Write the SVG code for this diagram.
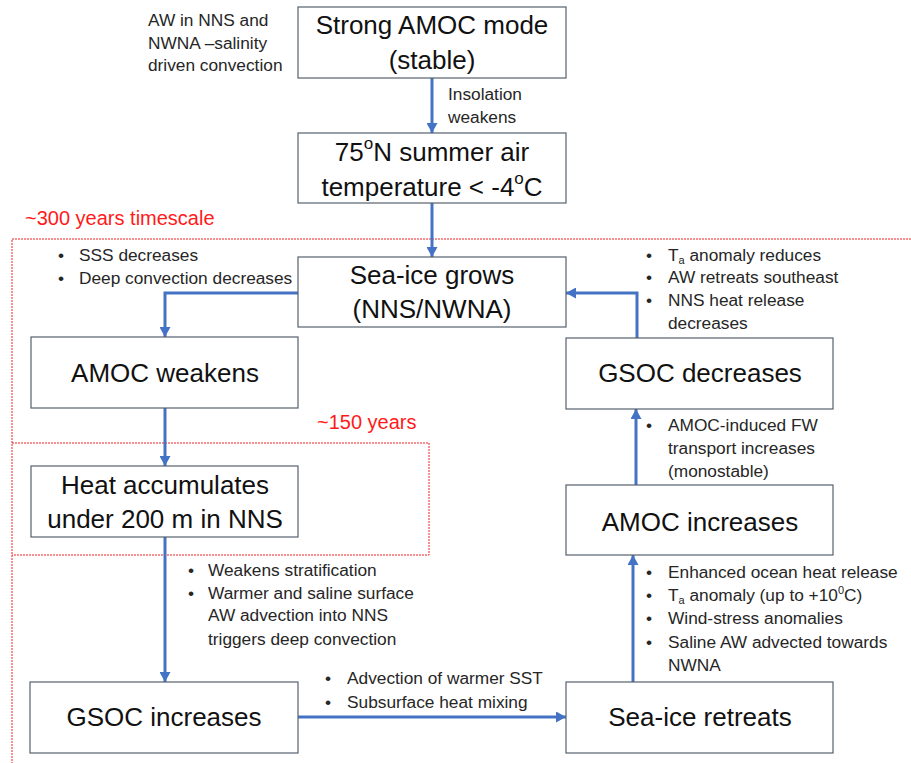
<svg xmlns="http://www.w3.org/2000/svg" width="911" height="763" viewBox="0 0 911 763">
<style>
  .box { fill: #ffffff; stroke: #56616d; stroke-width: 1.2; }
  .bt { font-family: "Liberation Sans", Arial, sans-serif; font-size: 26px; fill: #111111; text-anchor: middle; }
  .st { font-family: "Liberation Sans", Arial, sans-serif; font-size: 17.3px; fill: #262626; }
  .red { font-family: "Liberation Sans", Arial, sans-serif; font-size: 20px; fill: #ff1a1a; }
  .frame { fill: none; stroke: #ee2222; stroke-width: 1; stroke-dasharray: 2 1; }
  .conn { fill: none; stroke: #4472c4; stroke-width: 3; marker-end: url(#ah); }
</style>
<defs>
  <marker id="ah" markerUnits="userSpaceOnUse" markerWidth="11" markerHeight="11" refX="10" refY="5.5" orient="auto">
    <path d="M0,0 L10,5.5 L0,11 Z" fill="#4472c4"/>
  </marker>
</defs>
<rect width="911" height="763" fill="#ffffff"/>

<!-- timescale frames -->
<g id="frames">
  <path class="frame" d="M911 239 H12 V763"/>
  <path class="frame" d="M12 443 H429 V555 H12"/>
  <text class="red" x="25" y="225">~300 years timescale</text>
  <text class="red" x="317" y="429">~150 years</text>
</g>

<!-- connectors -->
<g id="connectors">
  <path class="conn" d="M432 78 V133"/>
  <path class="conn" d="M432 203 V257"/>
  <path class="conn" d="M298 293 H165 V337"/>
  <path class="conn" d="M165 408 V466"/>
  <path class="conn" d="M165 537 V682"/>
  <path class="conn" d="M298 717 H566"/>
  <path class="conn" d="M633 682 V555"/>
  <path class="conn" d="M636 485 V409"/>
  <path class="conn" d="M637 338 V293 H566"/>
</g>

<!-- nodes -->
<g id="strong-amoc">
  <rect class="box" x="298" y="7" width="268" height="71"/>
  <text class="bt" x="432" y="34">Strong AMOC mode</text>
  <text class="bt" x="432" y="69">(stable)</text>
</g>
<g id="air-temp">
  <rect class="box" x="298" y="133" width="268" height="70"/>
  <text class="bt" x="432" y="161">75<tspan font-size="17" dy="-12">o</tspan><tspan dy="12">N summer air</tspan></text>
  <text class="bt" x="432" y="196">temperature &lt; -4<tspan font-size="17" dy="-12">o</tspan><tspan dy="12">C</tspan></text>
</g>
<g id="sea-ice-grows">
  <rect class="box" x="298" y="257" width="268" height="70"/>
  <text class="bt" x="432" y="284">Sea-ice grows</text>
  <text class="bt" x="432" y="318">(NNS/NWNA)</text>
</g>
<g id="amoc-weakens">
  <rect class="box" x="31" y="337" width="267" height="71"/>
  <text class="bt" x="165" y="382">AMOC weakens</text>
</g>
<g id="heat-accumulates">
  <rect class="box" x="31" y="466" width="267" height="71"/>
  <text class="bt" x="165" y="494">Heat accumulates</text>
  <text class="bt" x="165" y="528">under 200 m in NNS</text>
</g>
<g id="gsoc-increases">
  <rect class="box" x="30" y="682" width="268" height="71"/>
  <text class="bt" x="164" y="726">GSOC increases</text>
</g>
<g id="sea-ice-retreats">
  <rect class="box" x="566" y="682" width="267" height="71"/>
  <text class="bt" x="700" y="726">Sea-ice retreats</text>
</g>
<g id="amoc-increases">
  <rect class="box" x="566" y="485" width="267" height="70"/>
  <text class="bt" x="700" y="531">AMOC increases</text>
</g>
<g id="gsoc-decreases">
  <rect class="box" x="566" y="338" width="267" height="71"/>
  <text class="bt" x="700" y="382">GSOC decreases</text>
</g>

<!-- annotations -->
<g id="labels">
  <text class="st" x="148" y="26">AW in NNS and</text>
  <text class="st" x="148" y="49">NWNA –salinity</text>
  <text class="st" x="148" y="71">driven convection</text>

  <text class="st" x="448" y="100">Insolation</text>
  <text class="st" x="448" y="123">weakens</text>

  <text class="st" x="58" y="261">•</text>
  <text class="st" x="79" y="261">SSS decreases</text>
  <text class="st" x="58" y="284">•</text>
  <text class="st" x="79" y="284">Deep convection decreases</text>

  <text class="st" x="646" y="261">•</text>
  <text class="st" x="668" y="261">T<tspan font-size="11" dy="3">a</tspan><tspan dy="-3"> anomaly reduces</tspan></text>
  <text class="st" x="646" y="283">•</text>
  <text class="st" x="668" y="283">AW retreats southeast</text>
  <text class="st" x="646" y="306">•</text>
  <text class="st" x="668" y="306">NNS heat release</text>
  <text class="st" x="668" y="329">decreases</text>

  <text class="st" x="646" y="431">•</text>
  <text class="st" x="668" y="431">AMOC-induced FW</text>
  <text class="st" x="668" y="454">transport increases</text>
  <text class="st" x="668" y="477">(monostable)</text>

  <text class="st" x="646" y="578">•</text>
  <text class="st" x="668" y="578">Enhanced ocean heat release</text>
  <text class="st" x="646" y="601">•</text>
  <text class="st" x="668" y="601">T<tspan font-size="11" dy="3">a</tspan><tspan dy="-3"> anomaly (up to +10</tspan><tspan font-size="11" dy="-7">0</tspan><tspan dy="7">C)</tspan></text>
  <text class="st" x="646" y="624">•</text>
  <text class="st" x="668" y="624">Wind-stress anomalies</text>
  <text class="st" x="646" y="648">•</text>
  <text class="st" x="668" y="648">Saline AW advected towards</text>
  <text class="st" x="668" y="671">NWNA</text>

  <text class="st" x="188" y="576">•</text>
  <text class="st" x="208" y="576">Weakens stratification</text>
  <text class="st" x="188" y="599">•</text>
  <text class="st" x="208" y="599">Warmer and saline surface</text>
  <text class="st" x="208" y="621">AW advection into NNS</text>
  <text class="st" x="208" y="645">triggers deep convection</text>

  <text class="st" x="325" y="684">•</text>
  <text class="st" x="347" y="684">Advection of warmer SST</text>
  <text class="st" x="325" y="708">•</text>
  <text class="st" x="347" y="708">Subsurface heat mixing</text>
</g>
</svg>
